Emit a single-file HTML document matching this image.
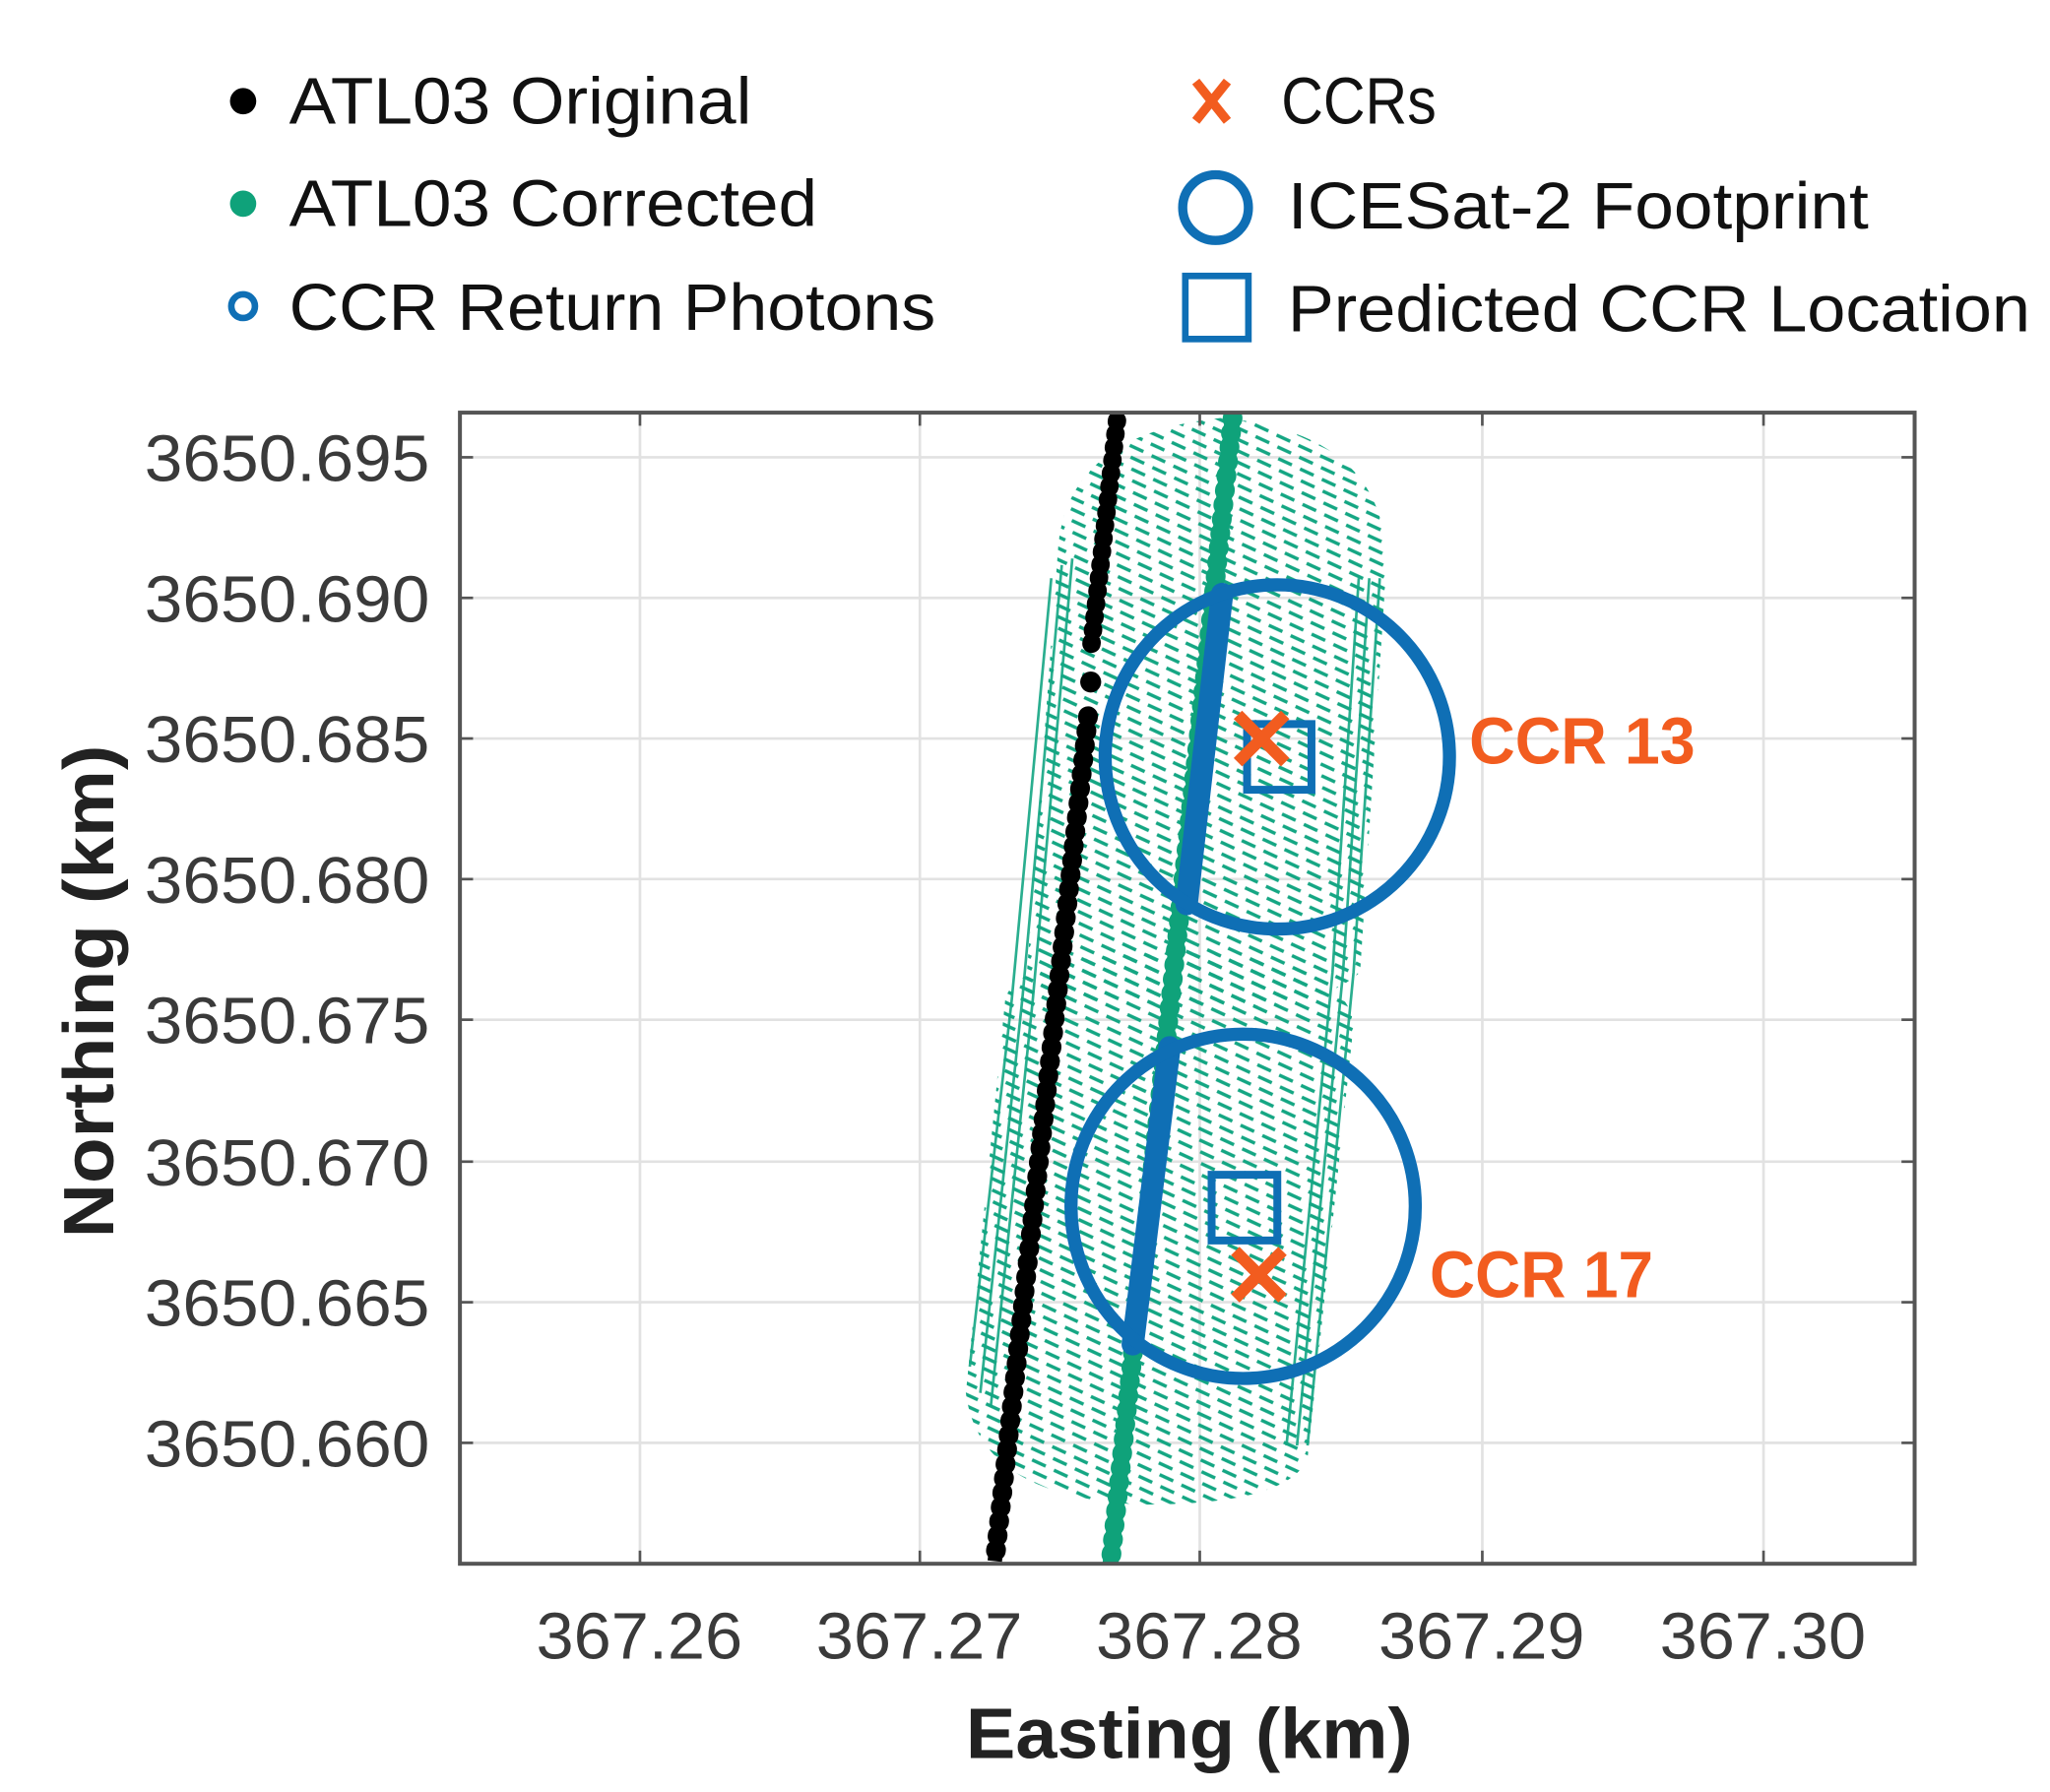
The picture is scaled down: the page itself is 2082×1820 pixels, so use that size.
<!DOCTYPE html>
<html><head><meta charset="utf-8"><style>
html,body{margin:0;padding:0;background:#fff;}
svg{display:block;}
text{font-family:"Liberation Sans",sans-serif;}
</style></head><body>
<svg width="2082" height="1820" viewBox="0 0 1560 1363.7" xmlns="http://www.w3.org/2000/svg">
<defs>
<pattern id="h" width="16" height="9" patternUnits="userSpaceOnUse" patternTransform="rotate(-4)">
<line x1="2" y1="2" x2="12" y2="7.5" stroke="#14a683" stroke-width="2.6"/>
</pattern>
<clipPath id="pc"><rect x="350" y="314" width="1107" height="876"/></clipPath>
</defs>
<rect width="1560" height="1364" fill="#fff"/>
<g stroke="#e2e2e2" stroke-width="2">
<line x1="487" y1="314" x2="487" y2="1190"/><line x1="700" y1="314" x2="700" y2="1190"/>
<line x1="913" y1="314" x2="913" y2="1190"/><line x1="1128" y1="314" x2="1128" y2="1190"/>
<line x1="1342" y1="314" x2="1342" y2="1190"/>
<line x1="350" y1="348" x2="1457" y2="348"/><line x1="350" y1="455" x2="1457" y2="455"/>
<line x1="350" y1="562" x2="1457" y2="562"/><line x1="350" y1="669" x2="1457" y2="669"/>
<line x1="350" y1="776" x2="1457" y2="776"/><line x1="350" y1="884" x2="1457" y2="884"/>
<line x1="350" y1="991" x2="1457" y2="991"/><line x1="350" y1="1098" x2="1457" y2="1098"/>
</g>
<g clip-path="url(#pc)">
<path d="M805,420 Q810,330 930,318 Q1055,330 1055,430 L1035,740 Q1000,770 930,765 L780,760 Z" fill="url(#h)"/>
<path d="M765,760 Q775,725 900,725 Q1025,730 1030,780 L995,1110 Q980,1145 870,1145 Q745,1140 735,1060 Z" fill="url(#h)"/>
<g stroke="#14a683" stroke-width="2" fill="none" opacity="0.9">
<path d="M800,440 L770,760 L738,1040"/><path d="M808,430 L778,760 L746,1060"/><path d="M816,425 L786,760 L754,1070"/>
<path d="M1050,440 L1030,740 L995,1100"/><path d="M1042,440 L1022,740 L987,1100"/><path d="M1034,440 L1014,740 L979,1100"/>
</g>
<path d="M850,320 L830,495" stroke="#000" stroke-width="9"/>
<path d="M850,320 L830,495" stroke="#000" stroke-width="14" stroke-linecap="round" stroke-dasharray="1 9"/>
<circle cx="830" cy="519" r="8" fill="#000"/>
<path d="M828,545 L757,1188" stroke="#000" stroke-width="11"/>
<path d="M828,545 L757,1188" stroke="#000" stroke-width="15" stroke-linecap="round" stroke-dasharray="1 10"/>
<path d="M938,318 L845,1190" stroke="#0fa27a" stroke-width="12"/>
<path d="M938,318 L845,1190" stroke="#0fa27a" stroke-width="15" stroke-linecap="round" stroke-dasharray="1 10"/>
<path d="M930,452 L903,688" stroke="#0f6fb5" stroke-width="17" stroke-linecap="round"/>
<path d="M890,797 L862,1023" stroke="#0f6fb5" stroke-width="17" stroke-linecap="round"/>
</g>
<circle cx="972" cy="576" r="131" fill="none" stroke="#0f6fb5" stroke-width="10"/>
<circle cx="946" cy="918" r="131" fill="none" stroke="#0f6fb5" stroke-width="10"/>
<rect x="949" y="551" width="49" height="50" fill="none" stroke="#0f6fb5" stroke-width="6"/>
<rect x="922" y="894" width="50" height="50" fill="none" stroke="#0f6fb5" stroke-width="6"/>
<g stroke="#f25c1f" stroke-width="9">
<line x1="942" y1="544" x2="978" y2="580"/><line x1="978" y1="544" x2="942" y2="580"/>
<line x1="940" y1="952" x2="976" y2="988"/><line x1="976" y1="952" x2="940" y2="988"/>
</g>
<text x="1118" y="581" font-size="50" font-weight="bold" fill="#f25c1f" textLength="172" lengthAdjust="spacingAndGlyphs">CCR 13</text>
<text x="1088" y="987" font-size="50" font-weight="bold" fill="#f25c1f" textLength="170" lengthAdjust="spacingAndGlyphs">CCR 17</text>
<rect x="350" y="314" width="1107" height="876" fill="none" stroke="#555" stroke-width="3"/>
<g stroke="#555" stroke-width="2">
<line x1="487" y1="1190" x2="487" y2="1180"/><line x1="700" y1="1190" x2="700" y2="1180"/><line x1="913" y1="1190" x2="913" y2="1180"/><line x1="1128" y1="1190" x2="1128" y2="1180"/><line x1="1342" y1="1190" x2="1342" y2="1180"/>
<line x1="487" y1="314" x2="487" y2="324"/><line x1="700" y1="314" x2="700" y2="324"/><line x1="913" y1="314" x2="913" y2="324"/><line x1="1128" y1="314" x2="1128" y2="324"/><line x1="1342" y1="314" x2="1342" y2="324"/>
<line x1="350" y1="348" x2="360" y2="348"/><line x1="350" y1="455" x2="360" y2="455"/><line x1="350" y1="562" x2="360" y2="562"/><line x1="350" y1="669" x2="360" y2="669"/><line x1="350" y1="776" x2="360" y2="776"/><line x1="350" y1="884" x2="360" y2="884"/><line x1="350" y1="991" x2="360" y2="991"/><line x1="350" y1="1098" x2="360" y2="1098"/>
<line x1="1457" y1="348" x2="1447" y2="348"/><line x1="1457" y1="455" x2="1447" y2="455"/><line x1="1457" y1="562" x2="1447" y2="562"/><line x1="1457" y1="669" x2="1447" y2="669"/><line x1="1457" y1="776" x2="1447" y2="776"/><line x1="1457" y1="884" x2="1447" y2="884"/><line x1="1457" y1="991" x2="1447" y2="991"/><line x1="1457" y1="1098" x2="1447" y2="1098"/>
</g>
<g font-size="50" fill="#3a3a3a">
<text x="110" y="366" textLength="217" lengthAdjust="spacingAndGlyphs">3650.695</text>
<text x="110" y="473" textLength="217" lengthAdjust="spacingAndGlyphs">3650.690</text>
<text x="110" y="580" textLength="217" lengthAdjust="spacingAndGlyphs">3650.685</text>
<text x="110" y="687" textLength="217" lengthAdjust="spacingAndGlyphs">3650.680</text>
<text x="110" y="794" textLength="217" lengthAdjust="spacingAndGlyphs">3650.675</text>
<text x="110" y="902" textLength="217" lengthAdjust="spacingAndGlyphs">3650.670</text>
<text x="110" y="1009" textLength="217" lengthAdjust="spacingAndGlyphs">3650.665</text>
<text x="110" y="1116" textLength="217" lengthAdjust="spacingAndGlyphs">3650.660</text>
</g>
<g font-size="50" fill="#3a3a3a">
<text x="408" y="1262" textLength="157" lengthAdjust="spacingAndGlyphs">367.26</text>
<text x="621" y="1262" textLength="157" lengthAdjust="spacingAndGlyphs">367.27</text>
<text x="834" y="1262" textLength="157" lengthAdjust="spacingAndGlyphs">367.28</text>
<text x="1049" y="1262" textLength="157" lengthAdjust="spacingAndGlyphs">367.29</text>
<text x="1263" y="1262" textLength="157" lengthAdjust="spacingAndGlyphs">367.30</text>
</g>
<text x="735" y="1338" font-size="54" font-weight="bold" fill="#222" textLength="340" lengthAdjust="spacingAndGlyphs">Easting (km)</text>
<text transform="translate(86,942) rotate(-90)" font-size="54" font-weight="bold" fill="#222" textLength="375" lengthAdjust="spacingAndGlyphs">Northing (km)</text>
<circle cx="185" cy="77" r="10" fill="#000"/>
<text x="220" y="94" font-size="50" fill="#111" textLength="352" lengthAdjust="spacingAndGlyphs">ATL03 Original</text>
<circle cx="185" cy="155" r="10" fill="#0fa27a"/>
<text x="220" y="172" font-size="50" fill="#111" textLength="402" lengthAdjust="spacingAndGlyphs">ATL03 Corrected</text>
<circle cx="185" cy="233" r="9" fill="none" stroke="#0f6fb5" stroke-width="5"/>
<text x="220" y="251" font-size="50" fill="#111" textLength="492" lengthAdjust="spacingAndGlyphs">CCR Return Photons</text>
<g stroke="#f25c1f" stroke-width="7"><line x1="910" y1="62" x2="934" y2="92"/><line x1="934" y1="62" x2="910" y2="92"/></g>
<text x="975" y="94" font-size="50" fill="#111" textLength="118" lengthAdjust="spacingAndGlyphs">CCRs</text>
<circle cx="925" cy="158" r="25" fill="none" stroke="#0f6fb5" stroke-width="7"/>
<text x="980" y="174" font-size="50" fill="#111" textLength="442" lengthAdjust="spacingAndGlyphs">ICESat-2 Footprint</text>
<rect x="902" y="210" width="48" height="48" fill="none" stroke="#0f6fb5" stroke-width="5"/>
<text x="980" y="252" font-size="50" fill="#111" textLength="565" lengthAdjust="spacingAndGlyphs">Predicted CCR Location</text>
</svg>
</body></html>
